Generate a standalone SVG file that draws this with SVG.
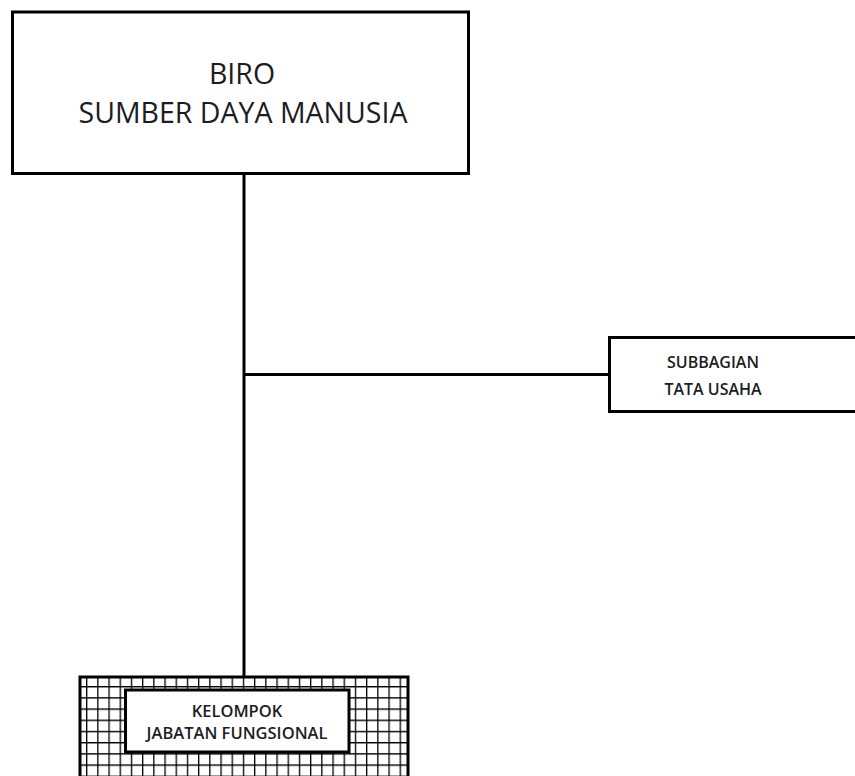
<svg xmlns="http://www.w3.org/2000/svg" width="855" height="776" viewBox="0 0 855 776">
<style>
.box{fill:#fff;stroke:#000;stroke-width:3}
.conn{stroke:#000;stroke-width:3;fill:none}
.t{font-family:"Open Sans","Noto Sans",sans-serif;fill:#1c1c24;text-anchor:middle}
</style>
<defs>
<pattern id="grid" patternUnits="userSpaceOnUse" x="86" y="686" width="11.2" height="11.2">
<rect width="11.2" height="11.2" fill="#fff"/>
<path d="M0 0V11.2M0 0H11.2" stroke="#000" stroke-width="2.6" fill="none"/>
</pattern>
</defs>
<g id="connectors">
<line class="conn" x1="244" y1="173" x2="244" y2="677"/>
<line class="conn" x1="244" y1="374.5" x2="609" y2="374.5"/>
</g>
<g id="biro">
<rect class="box" x="12.5" y="12" width="456" height="161.5"/>
<text class="t" x="242" y="84" font-size="28.5">BIRO</text>
<text class="t" x="243" y="123" font-size="28.5">SUMBER DAYA MANUSIA</text>
</g>
<g id="subbagian">
<rect class="box" x="609.5" y="337.5" width="260" height="74"/>
<text class="t" x="713" y="368" font-size="16" font-weight="600">SUBBAGIAN</text>
<text class="t" x="713" y="395" font-size="16" font-weight="600">TATA USAHA</text>
</g>
<g id="kelompok">
<rect x="80" y="677" width="328" height="110" fill="url(#grid)" stroke="#000" stroke-width="3"/>
<rect class="box" x="125.5" y="690" width="223.5" height="62" stroke-width="4"/>
<text class="t" x="237" y="716.5" font-size="16.5" font-weight="600">KELOMPOK</text>
<text class="t" x="237" y="739" font-size="16.5" font-weight="600">JABATAN FUNGSIONAL</text>
</g>
</svg>
